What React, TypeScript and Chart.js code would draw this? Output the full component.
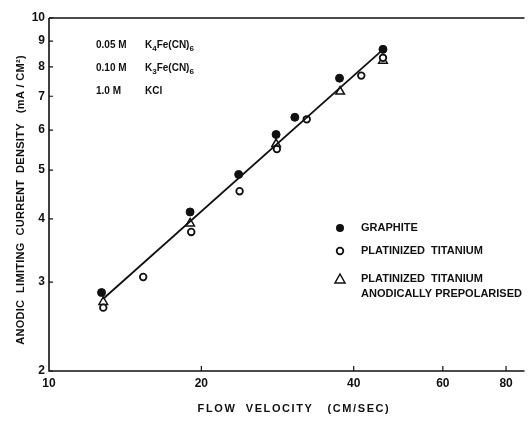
import { useEffect, useRef } from 'react';
import { Chart, registerables } from 'chart.js';

Chart.register(...registerables);

const GRAPHITE_X = [12.7, 19.0, 23.7, 28.1, 30.6, 37.5, 45.7];
const GRAPHITE_Y = [2.86, 4.13, 4.9, 5.88, 6.36, 7.6, 8.67];
const PT_X = [12.8, 15.35, 19.1, 23.8, 28.2, 32.3, 41.4, 45.7];
const PT_Y = [2.67, 3.07, 3.77, 4.54, 5.5, 6.3, 7.69, 8.34];
const PREPOL_X = [12.8, 19.0, 28.1, 37.6, 45.7];
const PREPOL_Y = [2.74, 3.92, 5.63, 7.15, 8.23];
const FIT_X = [12.8, 45.1];
const FIT_Y = [2.78, 8.56];
const X_TICKS = [10, 20, 40, 60, 80];
const Y_TICKS = [2, 3, 4, 5, 6, 7, 8, 9, 10];

const LEGEND_LABELS = ['GRAPHITE', 'PLATINIZED  TITANIUM', 'PLATINIZED  TITANIUM', 'ANODICALLY PREPOLARISED'];
const X_TITLE = 'FLOW  VELOCITY   (CM/SEC)';
const Y_TITLE = 'ANODIC  LIMITING  CURRENT  DENSITY   (mA / CM²)';

const FONT = '"Liberation Sans", Arial, sans-serif';

const pts = (xs: number[], ys: number[]) => xs.map((x, i) => ({ x, y: ys[i] }));

const decor = {
  id: 'decor',
  afterDraw(chart: any) {
    const ctx = chart.ctx as any;
    const { left, right, top, bottom } = chart.chartArea;
    const xs = chart.scales.x;
    const ys = chart.scales.y;
    ctx.save();
    ctx.strokeStyle = '#111';
    ctx.fillStyle = '#111';
    // frame
    ctx.lineWidth = 1.6;
    ctx.beginPath();
    ctx.moveTo(left, top);
    ctx.lineTo(right, top);
    ctx.moveTo(left, top);
    ctx.lineTo(left, bottom);
    ctx.lineTo(right, bottom);
    ctx.stroke();
    // ticks
    ctx.lineWidth = 1.2;
    ctx.beginPath();
    Y_TICKS.forEach((v) => {
      const y = ys.getPixelForValue(v);
      ctx.moveTo(left, y);
      ctx.lineTo(left + 4, y);
    });
    X_TICKS.slice(1).forEach((v) => {
      const x = xs.getPixelForValue(v);
      ctx.moveTo(x, bottom);
      ctx.lineTo(x, bottom - 5);
    });
    ctx.stroke();

    // annotation
    ctx.textBaseline = 'middle';
    ctx.textAlign = 'left';
    const big = `bold 10px ${FONT}`;
    const small = `bold 8px ${FONT}`;
    const seg = (x: number, y: number, parts: [string, number][]) => {
      let cx = x;
      parts.forEach(([t, off]) => {
        ctx.font = off ? small : big;
        ctx.fillText(t, cx, y + off);
        cx += ctx.measureText(t).width;
      });
    };
    seg(96, 45, [['0.05 M', 0]]);
    seg(145, 45, [['K', 0], ['4', 4], ['Fe(CN)', 0], ['6', 4]]);
    seg(96, 68, [['0.10 M', 0]]);
    seg(145, 68, [['K', 0], ['3', 4], ['Fe(CN)', 0], ['6', 4]]);
    seg(96, 91, [['1.0 M', 0]]);
    seg(145, 91, [['KCl', 0]]);

    // legend
    const mx = 340;
    ctx.font = `bold 11px ${FONT}`;
    ctx.lineWidth = 1.8;
    ctx.beginPath();
    ctx.arc(mx, 228, 4, 0, Math.PI * 2);
    ctx.fill();
    ctx.fillText(LEGEND_LABELS[0], 361, 228);
    ctx.beginPath();
    ctx.arc(mx, 251, 3.3, 0, Math.PI * 2);
    ctx.stroke();
    ctx.fillText(LEGEND_LABELS[1], 361, 251);
    ctx.lineWidth = 1.5;
    ctx.beginPath();
    ctx.moveTo(mx, 274);
    ctx.lineTo(mx + 5, 283);
    ctx.lineTo(mx - 5, 283);
    ctx.closePath();
    ctx.stroke();
    ctx.fillText(LEGEND_LABELS[2], 361, 279);
    ctx.fillText(LEGEND_LABELS[3], 361, 294);

    // axis titles
    ctx.font = `bold 11px ${FONT}`;
    ctx.textAlign = 'center';
    ctx.letterSpacing = '1.6px';
    ctx.fillText(X_TITLE, 294, 409);
    ctx.letterSpacing = '0.3px';
    ctx.translate(21, 200);
    ctx.rotate(-Math.PI / 2);
    ctx.fillText(Y_TITLE, 0, 0);
    ctx.restore();
  },
};

export default function App() {
  const ref = useRef<HTMLCanvasElement | null>(null);
  useEffect(() => {
    document.body.style.margin = '0';
    const chart = new Chart(ref.current as HTMLCanvasElement, {
      type: 'scatter',
      data: {
        datasets: [
          {
            label: 'fit',
            data: pts(FIT_X, FIT_Y),
            showLine: true,
            borderColor: '#111',
            borderWidth: 1.8,
            pointRadius: 0,
            fill: false,
          } as any,
          {
            label: 'Graphite',
            data: pts(GRAPHITE_X, GRAPHITE_Y),
            pointStyle: 'circle',
            pointRadius: 4,
            backgroundColor: '#111',
            borderColor: '#111',
            borderWidth: 1,
          },
          {
            label: 'Platinized titanium',
            data: pts(PT_X, PT_Y),
            pointStyle: 'circle',
            pointRadius: 3.3,
            backgroundColor: '#fff',
            borderColor: '#111',
            borderWidth: 1.8,
          },
          {
            label: 'Prepolarised',
            data: pts(PREPOL_X, PREPOL_Y),
            pointStyle: 'triangle',
            pointRadius: 5,
            backgroundColor: 'rgba(255,255,255,0)',
            borderColor: '#111',
            borderWidth: 1.5,
          },
        ],
      },
      options: {
        animation: false,
        responsive: true,
        maintainAspectRatio: false,
        layout: { padding: { left: 0, top: 18, right: 1, bottom: 0 } },
        plugins: { legend: { display: false }, tooltip: { enabled: false } },
        scales: {
          x: {
            type: 'logarithmic',
            min: 10,
            max: 87,
            grid: { display: false, drawTicks: false },
            border: { display: false },
            afterBuildTicks: (s: any) => {
              s.ticks = X_TICKS.map((v) => ({ value: v }));
            },
            afterFit: (s: any) => {
              s.height = 53;
            },
            ticks: {
              padding: 5,
              color: '#111',
              font: { family: FONT, size: 12, weight: 'bold' },
              maxRotation: 0,
              autoSkip: false,
              callback: (v: any) => String(v),
            },
          },
          y: {
            type: 'logarithmic',
            min: 2,
            max: 10,
            grid: { display: false, drawTicks: false },
            border: { display: false },
            afterBuildTicks: (s: any) => {
              s.ticks = Y_TICKS.map((v) => ({ value: v }));
            },
            afterFit: (s: any) => {
              s.width = 49;
            },
            ticks: {
              padding: 4,
              color: '#111',
              font: { family: FONT, size: 12, weight: 'bold' },
              autoSkip: false,
              callback: (v: any) => String(v),
            },
          },
        },
      },
      plugins: [decor],
    });
    return () => chart.destroy();
  }, []);
  return (
    <div style={{ position: 'fixed', left: 0, top: 0, width: 531, height: 424, background: '#fff' }}>
      <canvas ref={ref} />
    </div>
  );
}
